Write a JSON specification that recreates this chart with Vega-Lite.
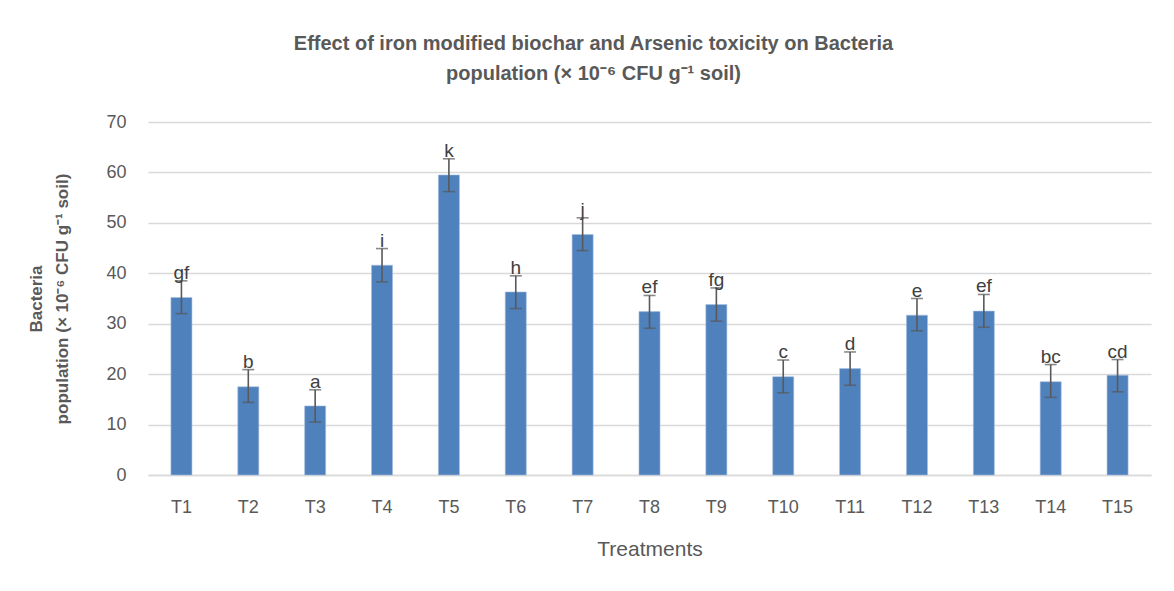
{
  "$schema": "https://vega.github.io/schema/vega-lite/v6.json",
  "width": 1003,
  "height": 353,
  "autosize": {"type": "none"},
  "padding": {"left": 148, "top": 122, "right": 23, "bottom": 116},
  "background": "white",
  "title": {
    "text": ["Effect of iron modified biochar and Arsenic toxicity on Bacteria", "population (× 10⁻⁶ CFU g⁻¹ soil)"],
    "anchor": "middle",
    "frame": "group",
    "dx": -56,
    "offset": 29,
    "font": "Liberation Sans",
    "fontSize": 20,
    "fontWeight": "bold",
    "color": "#595959",
    "lineHeight": 30
  },
  "config": {
    "view": {"stroke": null},
    "font": "Liberation Sans"
  },
  "data": {
    "values": [
      {"treatment": "T1", "mean": 35.2, "lo": 32.0, "hi": 38.5, "letter": "gf"},
      {"treatment": "T2", "mean": 17.5, "lo": 14.4, "hi": 20.9, "letter": "b"},
      {"treatment": "T3", "mean": 13.7, "lo": 10.5, "hi": 16.9, "letter": "a"},
      {"treatment": "T4", "mean": 41.6, "lo": 38.3, "hi": 44.9, "letter": "i"},
      {"treatment": "T5", "mean": 59.5, "lo": 56.2, "hi": 62.7, "letter": "k"},
      {"treatment": "T6", "mean": 36.3, "lo": 33.0, "hi": 39.5, "letter": "h"},
      {"treatment": "T7", "mean": 47.7, "lo": 44.5, "hi": 51.0, "letter": "j"},
      {"treatment": "T8", "mean": 32.4, "lo": 29.1, "hi": 35.6, "letter": "ef"},
      {"treatment": "T9", "mean": 33.8, "lo": 30.5, "hi": 37.1, "letter": "fg"},
      {"treatment": "T10", "mean": 19.5, "lo": 16.3, "hi": 22.8, "letter": "c"},
      {"treatment": "T11", "mean": 21.1, "lo": 17.8, "hi": 24.4, "letter": "d"},
      {"treatment": "T12", "mean": 31.7, "lo": 28.6, "hi": 35.0, "letter": "e"},
      {"treatment": "T13", "mean": 32.5, "lo": 29.3, "hi": 35.8, "letter": "ef"},
      {"treatment": "T14", "mean": 18.5, "lo": 15.4, "hi": 21.9, "letter": "bc"},
      {"treatment": "T15", "mean": 19.8, "lo": 16.5, "hi": 22.9, "letter": "cd"}
    ]
  },
  "encoding": {
    "x": {
      "field": "treatment",
      "type": "nominal",
      "sort": null,
      "scale": {"paddingInner": 0.685, "paddingOuter": 0.3425},
      "axis": {
        "title": "Treatments",
        "titleFontSize": 21,
        "titleFontWeight": "normal",
        "titleColor": "#595959",
        "titlePadding": 22,
        "labelAngle": 0,
        "labelFontSize": 18,
        "labelColor": "#595959",
        "labelPadding": 23,
        "ticks": false,
        "domainColor": "#d9d9d9",
        "domainWidth": 1.5,
        "grid": false
      }
    }
  },
  "layer": [
    {
      "mark": {"type": "bar", "color": "#4f81bd", "stroke": "#a9c1e0", "strokeWidth": 0.6},
      "encoding": {
        "y": {
          "field": "mean",
          "type": "quantitative",
          "scale": {"domain": [0, 70]},
          "axis": {
            "values": [0, 10, 20, 30, 40, 50, 60, 70],
            "title": ["Bacteria", "population (× 10⁻⁶ CFU g⁻¹ soil)"],
            "titleFontSize": 17,
            "titleFontWeight": "bold",
            "titleColor": "#595959",
            "titleLineHeight": 26,
            "titlePadding": 34,
            "labelFontSize": 18,
            "labelColor": "#595959",
            "labelPadding": 22,
            "ticks": false,
            "domain": false,
            "grid": true,
            "gridColor": "#d9d9d9",
            "gridWidth": 1.5
          }
        }
      }
    },
    {
      "mark": {"type": "rule", "color": "#595959", "strokeWidth": 1.6},
      "encoding": {
        "y": {"field": "lo", "type": "quantitative"},
        "y2": {"field": "hi"}
      }
    },
    {
      "mark": {"type": "tick", "color": "#595959", "thickness": 1.6, "size": 12},
      "encoding": {
        "y": {"field": "lo", "type": "quantitative"}
      }
    },
    {
      "mark": {"type": "tick", "color": "#595959", "thickness": 1.6, "size": 12},
      "encoding": {
        "y": {"field": "hi", "type": "quantitative"}
      }
    },
    {
      "mark": {"type": "text", "baseline": "alphabetic", "dy": -2, "fontSize": 19, "color": "#404040"},
      "encoding": {
        "y": {"field": "hi", "type": "quantitative"},
        "text": {"field": "letter"}
      }
    }
  ]
}
